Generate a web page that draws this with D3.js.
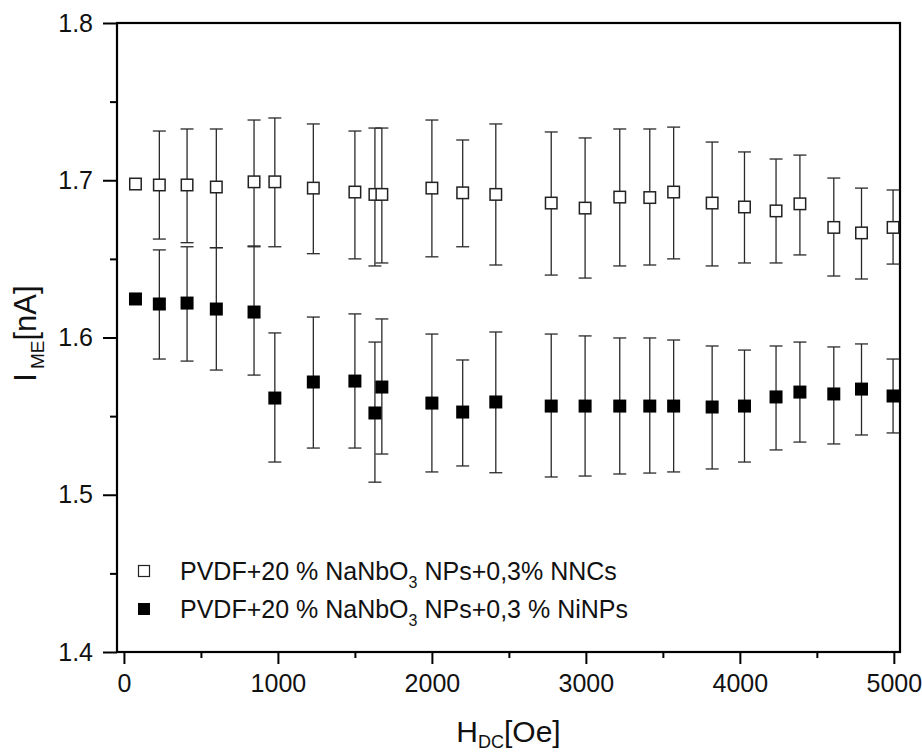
<!DOCTYPE html>
<html>
<head>
<meta charset="utf-8">
<script src="https://cdn.jsdelivr.net/npm/d3@7"></script>
<style>
  html, body { margin: 0; padding: 0; background: #fff; }
  svg { display: block; font-family: Arial, "Liberation Sans", sans-serif; }
</style>
</head>
<body>
<svg id="chart" width="922" height="755"></svg>
<script>
// ---- Data ----
const hdc = [75, 230, 410, 600, 845, 980, 1230, 1500, 1630, 1675, 2000, 2200, 2415, 2775, 2995, 3220, 3415, 3570, 3820, 4030, 4235, 4390, 4610, 4790, 4995];

const nncValues = [1.6976, 1.697, 1.697, 1.6957, 1.699, 1.699, 1.695, 1.6925, 1.691, 1.691, 1.695, 1.692, 1.691, 1.6855, 1.6823, 1.6893, 1.689, 1.6925, 1.6855, 1.683, 1.6805, 1.685, 1.670, 1.6665, 1.670];
const nncLow = [null, 1.6626, 1.6603, 1.6571, 1.6577, 1.6577, 1.6533, 1.650, 1.6455, 1.6474, 1.6513, 1.6577, 1.6461, 1.6397, 1.6378, 1.6455, 1.6461, 1.650, 1.6455, 1.6474, 1.6474, 1.6525, 1.6391, 1.6372, 1.6467];
const nncHigh = [null, 1.7313, 1.7326, 1.7326, 1.7383, 1.7396, 1.7358, 1.7313, 1.7332, 1.7332, 1.7383, 1.7256, 1.7358, 1.7307, 1.7269, 1.7326, 1.7326, 1.7338, 1.7243, 1.718, 1.7135, 1.716, 1.7014, 1.695, 1.6938];

const niValues = [1.6245, 1.6213, 1.6219, 1.6181, 1.6162, 1.5615, 1.5717, 1.5723, 1.552, 1.5685, 1.5583, 1.5526, 1.559, 1.5564, 1.5564, 1.5564, 1.5564, 1.5564, 1.5558, 1.5564, 1.5622, 1.5653, 1.5641, 1.5672, 1.5628];
const niLow = [null, 1.5863, 1.585, 1.5793, 1.5761, 1.5208, 1.5297, 1.5297, 1.508, 1.5259, 1.5145, 1.5183, 1.514, 1.5113, 1.5119, 1.5132, 1.5138, 1.5145, 1.5164, 1.5208, 1.5285, 1.5335, 1.5323, 1.538, 1.5393];
const niHigh = [null, 1.6557, 1.6577, 1.6571, 1.6582, 1.6029, 1.613, 1.615, 1.5971, 1.6118, 1.6022, 1.5857, 1.6035, 1.6022, 1.601, 1.5997, 1.5997, 1.5984, 1.5946, 1.592, 1.5946, 1.5971, 1.594, 1.5959, 1.5863];

const xTicks = [0, 1000, 2000, 3000, 4000, 5000];
const xMinorTicks = [500, 1500, 2500, 3500, 4500];
const yTicks = [1.4, 1.5, 1.6, 1.7, 1.8];
const yMinorTicks = [1.45, 1.55, 1.65, 1.75];

const seriesNames = [
  ["PVDF+20 % NaNbO", "3", " NPs+0,3% NNCs"],
  ["PVDF+20 % NaNbO", "3", " NPs+0,3 % NiNPs"]
];

// ---- Layout ----
const pLeft = 117, pRight = 900, pTop = 23, pBottom = 652;
const svg = d3.select("#chart");

const x = d3.scaleLinear().domain([-45, 5040]).range([pLeft, pRight]);
const y = d3.scaleLinear().domain([1.4, 1.8]).range([pBottom, pTop]);

const fontSize = 25;

// Axes
const xAxis = d3.axisBottom(x).tickValues(xTicks).tickFormat(d3.format("d")).tickSize(12).tickPadding(10);
const xMinor = d3.axisBottom(x).tickValues(xMinorTicks).tickFormat("").tickSize(6);
const yAxis = d3.axisLeft(y).tickValues(yTicks).tickFormat(d3.format(".1f")).tickSize(14).tickPadding(10);
const yMinor = d3.axisLeft(y).tickValues(yMinorTicks).tickFormat("").tickSize(7);

function styleAxis(g) {
  g.select(".domain").remove();
  g.selectAll(".tick line").attr("stroke", "#000").attr("stroke-width", 2);
  g.selectAll(".tick text").attr("fill", "#111").style("font-size", fontSize + "px").style("font-family", "Arial, 'Liberation Sans', sans-serif");
}

svg.append("g").attr("transform", `translate(0,${pBottom})`).call(xAxis).call(styleAxis);
svg.append("g").attr("transform", `translate(0,${pBottom})`).call(xMinor).call(styleAxis);
svg.append("g").attr("transform", `translate(${pLeft},0)`).call(yAxis).call(styleAxis);
svg.append("g").attr("transform", `translate(${pLeft},0)`).call(yMinor).call(styleAxis);

// Frame
svg.append("rect")
  .attr("x", pLeft).attr("y", pTop)
  .attr("width", pRight - pLeft).attr("height", pBottom - pTop)
  .attr("fill", "none").attr("stroke", "#000").attr("stroke-width", 2.2);

// Error bars + markers
function drawSeries(vals, lows, highs, filled) {
  const data = hdc.map((h, i) => ({h, v: vals[i], lo: lows[i], hi: highs[i]}));
  const g = svg.append("g");
  const eb = g.selectAll("g.eb").data(data.filter(d => d.lo != null)).join("g")
    .attr("stroke", "#2a2a2a").attr("stroke-width", 1.3);
  eb.append("line")
    .attr("x1", d => x(d.h)).attr("x2", d => x(d.h))
    .attr("y1", d => y(d.lo)).attr("y2", d => y(d.hi));
  eb.append("line")
    .attr("x1", d => x(d.h) - 6.5).attr("x2", d => x(d.h) + 6.5)
    .attr("y1", d => y(d.hi)).attr("y2", d => y(d.hi));
  eb.append("line")
    .attr("x1", d => x(d.h) - 6.5).attr("x2", d => x(d.h) + 6.5)
    .attr("y1", d => y(d.lo)).attr("y2", d => y(d.lo));
  const s = filled ? 13 : 11.5;
  g.selectAll("rect").data(data).join("rect")
    .attr("x", d => x(d.h) - s / 2).attr("y", d => y(d.v) - s / 2)
    .attr("width", s).attr("height", s)
    .attr("fill", filled ? "#000" : "#fff")
    .attr("stroke", filled ? "none" : "#222")
    .attr("stroke-width", filled ? 0 : 1.5);
}
drawSeries(nncValues, nncLow, nncHigh, false);
drawSeries(niValues, niLow, niHigh, true);

// Legend
const legendRows = [571, 609];
seriesNames.forEach((parts, i) => {
  const cy = legendRows[i];
  const filled = i === 1;
  const s = filled ? 12 : 11;
  svg.append("rect")
    .attr("x", 144 - s / 2).attr("y", cy - s / 2).attr("width", s).attr("height", s)
    .attr("fill", filled ? "#000" : "#fff")
    .attr("stroke", filled ? "none" : "#222").attr("stroke-width", 1.2);
  const t = svg.append("text").attr("x", 180).attr("y", cy + 9)
    .attr("fill", "#111").style("font-size", fontSize + "px");
  t.append("tspan").text(parts[0]);
  t.append("tspan").text(parts[1]).style("font-size", "16px").attr("dy", 8);
  t.append("tspan").text(parts[2]).attr("dy", -8);
});

// Axis titles
const xt = svg.append("text").attr("x", (pLeft + pRight) / 2).attr("y", 742)
  .attr("text-anchor", "middle").attr("fill", "#111").style("font-size", "30px");
xt.append("tspan").text("H");
xt.append("tspan").text("DC").style("font-size", "18px").attr("dy", 6);
xt.append("tspan").text("[Oe]").attr("dy", -6);

const yt = svg.append("text")
  .attr("transform", `translate(36,${(pTop + pBottom) / 2 - 4}) rotate(-90)`)
  .attr("text-anchor", "middle").attr("fill", "#111").style("font-size", "31px");
yt.append("tspan").text("I");
yt.append("tspan").text("ME").style("font-size", "19px").attr("dy", 8).attr("dx", 4);
yt.append("tspan").text("[nA]").attr("dy", -8);
</script>
</body>
</html>
